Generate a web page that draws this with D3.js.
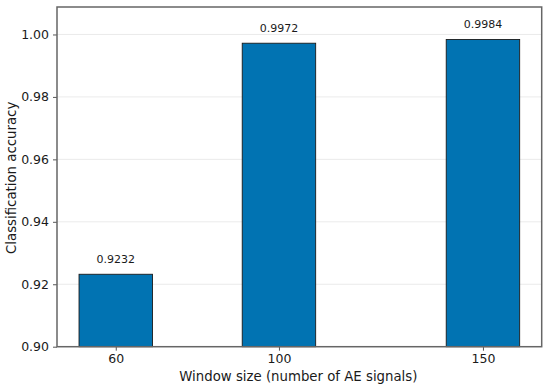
<!DOCTYPE html>
<html><head><meta charset="utf-8">
<script src="https://cdn.jsdelivr.net/npm/d3@7"></script>
<style>body{margin:0;background:#fff}svg{display:block}text{font-family:"DejaVu Sans",sans-serif;fill:#1a1a1a}</style>
</head><body><svg id="c" width="550" height="388"></svg>
<script>
const windowSizes = [60, 100, 150];
const accuracy = [0.9232, 0.9972, 0.9984];
const accuracyLabels = ["0.9232", "0.9972", "0.9984"];
const yTicks = [0.90, 0.92, 0.94, 0.96, 0.98, 1.00];
const barWidthUnits = 18;

const svg = d3.select("#c");
const L = 57, R = 541.7, T = 7, B = 346.7;
const x = d3.scaleLinear().domain([45.6, 164.4]).range([L, R]);
const y = d3.scaleLinear().domain([0.90, 1.0088]).range([B, T]);

// grid
svg.append("g").selectAll("line").data(yTicks).join("line")
  .attr("x1", L).attr("x2", R).attr("y1", d => y(d)).attr("y2", d => y(d))
  .attr("stroke", "#e6e6e6").attr("stroke-width", 0.8);

// bars
svg.append("g").selectAll("rect").data(windowSizes).join("rect")
  .attr("x", (d) => x(d - barWidthUnits / 2))
  .attr("width", (d) => x(d + barWidthUnits / 2) - x(d - barWidthUnits / 2))
  .attr("y", (d, i) => y(accuracy[i]))
  .attr("height", (d, i) => y(0.90) - y(accuracy[i]))
  .attr("fill", "#0173b2").attr("stroke", "#1a1a1a").attr("stroke-width", 0.9);

// value labels
svg.append("g").selectAll("text").data(windowSizes).join("text")
  .attr("x", d => x(d)).attr("y", (d, i) => y(accuracy[i]) - 11)
  .attr("text-anchor", "middle").attr("font-size", 11)
  .text((d, i) => accuracyLabels[i]);

// axes
const yAxis = d3.axisLeft(y).tickValues(yTicks).tickFormat(d3.format(".2f")).tickSize(4).tickPadding(4);
const gy = svg.append("g").attr("transform", `translate(${L},0)`).call(yAxis);
const xAxis = d3.axisBottom(x).tickValues(windowSizes).tickFormat(d3.format("d")).tickSize(4).tickPadding(3);
const gx = svg.append("g").attr("transform", `translate(0,${B})`).call(xAxis);
[gy, gx].forEach(g => {
  g.select(".domain").remove();
  g.selectAll(".tick line").attr("stroke", "#555").attr("stroke-width", 1);
  g.selectAll(".tick text").attr("font-size", 12.5).attr("fill", "#1a1a1a").attr("font-family", "DejaVu Sans");
});

// frame
svg.append("rect").attr("x", L).attr("y", T).attr("width", R - L).attr("height", B - T)
  .attr("fill", "none").attr("stroke", "#666").attr("stroke-width", 1.5);

// titles
svg.append("text").attr("x", (L + R) / 2 - 1).attr("y", 381).attr("text-anchor", "middle")
  .attr("font-size", 13.3).text("Window size (number of AE signals)");
svg.append("text").attr("transform", `translate(16,${(T + B) / 2 + 1}) rotate(-90)`).attr("text-anchor", "middle")
  .attr("font-size", 13.3).text("Classification accuracy");
</script></body></html>
